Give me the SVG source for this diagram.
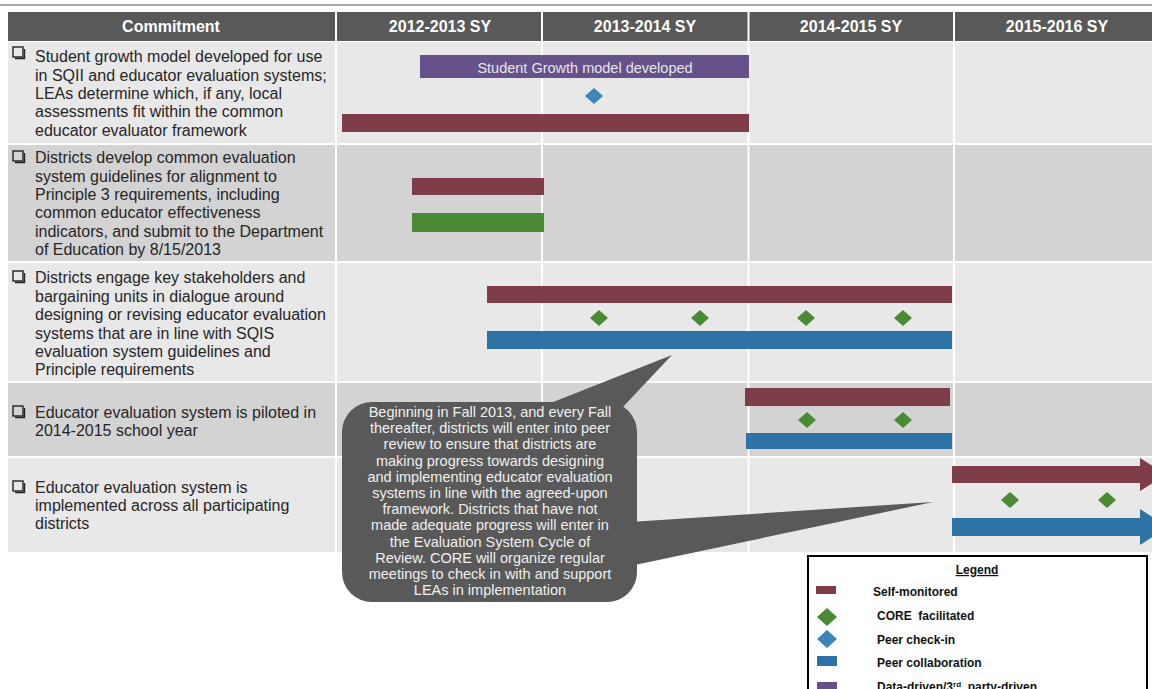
<svg xmlns="http://www.w3.org/2000/svg" width="1152" height="689" viewBox="0 0 1152 689">
<style>
.hdr{font-family:"Liberation Sans",Arial,sans-serif;font-weight:bold;font-size:16px;fill:#ffffff;text-anchor:middle}
.rt{font-family:"Liberation Sans",Arial,sans-serif;font-size:16px;fill:#262626}
.ct{font-family:"Liberation Sans",Arial,sans-serif;font-size:14.5px;fill:#f0f0f0;text-anchor:middle}
.lg{font-family:"Liberation Sans",Arial,sans-serif;font-size:12px;font-weight:bold;fill:#111}
.light{fill:#e8e8e8}
.dark{fill:#d3d3d3}
.sm{fill:#7f3d4a}
.cf{fill:#4b8a35}
.pc{fill:#2e73a6}
.pk{fill:#3b85b8}
.dd{fill:#66518a}
.cb{fill:none;stroke:#222;stroke-width:1.4}
.cbs{stroke:#222;stroke-width:1.4}
.sep{stroke:#ffffff;stroke-width:2}
</style>
<defs>
<polygon id="dia" points="0,-8 9,0 0,8 -9,0"/>
<g id="chk"><rect class="cb" x="0" y="0" width="10" height="10"/><path class="cbs" fill="none" d="M2,11.5 H11.5 V2"/></g>
</defs>
<rect x="0" y="0" width="1152" height="689" fill="#ffffff"/>
<line x1="0" y1="5" x2="1152" y2="5" stroke="#8a8a8a" stroke-width="1.5"/>

<g id="header">
<rect x="8" y="12" width="1144" height="29" fill="#595959"/>
<text class="hdr" x="171" y="32">Commitment</text>
<text class="hdr" x="440" y="32">2012-2013 SY</text>
<text class="hdr" x="645" y="32">2013-2014 SY</text>
<text class="hdr" x="851" y="32">2014-2015 SY</text>
<text class="hdr" x="1057" y="32">2015-2016 SY</text>
</g>

<g id="grid">
<rect class="light" x="8" y="42" width="1144" height="101"/>
<rect class="dark" x="8" y="145" width="1144" height="116"/>
<rect class="light" x="8" y="263" width="1144" height="118"/>
<rect class="dark" x="8" y="383" width="1144" height="73"/>
<rect class="light" x="8" y="458" width="1144" height="94"/>
<line class="sep" x1="336" y1="12" x2="336" y2="552"/>
<line class="sep" x1="542" y1="12" x2="542" y2="552"/>
<line class="sep" x1="748.5" y1="12" x2="748.5" y2="552"/>
<line class="sep" x1="954" y1="12" x2="954" y2="552"/>
</g>

<g id="row1">
<use href="#chk" x="13" y="47"/>
<text class="rt"><tspan x="35" y="62">Student growth model developed for use</tspan><tspan x="35" y="81">in SQII and educator evaluation systems;</tspan><tspan x="35" y="99">LEAs determine which, if any, local</tspan><tspan x="35" y="117">assessments fit within the common</tspan><tspan x="35" y="136">educator evaluator framework</tspan></text>
<rect class="dd" x="420" y="55" width="329" height="23"/>
<text x="585" y="73" style="font-family:'Liberation Sans',Arial,sans-serif;font-size:14.5px;fill:#e6e6e6;text-anchor:middle">Student Growth model developed</text>
<use href="#dia" class="pk" x="594" y="96"/>
<rect class="sm" x="342" y="114" width="407" height="18"/>
</g>

<g id="row2">
<use href="#chk" x="13" y="151"/>
<text class="rt"><tspan x="35" y="163">Districts develop common evaluation</tspan><tspan x="35" y="182">system guidelines for alignment to</tspan><tspan x="35" y="200">Principle 3 requirements, including</tspan><tspan x="35" y="218">common educator effectiveness</tspan><tspan x="35" y="237">indicators, and submit to the Department</tspan><tspan x="35" y="255">of Education by 8/15/2013</tspan></text>
<rect class="sm" x="412" y="178" width="132" height="17"/>
<rect class="cf" x="412" y="213" width="132" height="19"/>
</g>

<g id="row3">
<use href="#chk" x="13" y="271"/>
<text class="rt"><tspan x="35" y="283">Districts engage key stakeholders and</tspan><tspan x="35" y="302">bargaining units in dialogue around</tspan><tspan x="35" y="320">designing or revising educator evaluation</tspan><tspan x="35" y="339">systems that are in line with SQIS</tspan><tspan x="35" y="357">evaluation system guidelines and</tspan><tspan x="35" y="375">Principle requirements</tspan></text>
<rect class="sm" x="487" y="286" width="465" height="17"/>
<use href="#dia" class="cf" x="599" y="318"/>
<use href="#dia" class="cf" x="700" y="318"/>
<use href="#dia" class="cf" x="806" y="318"/>
<use href="#dia" class="cf" x="903" y="318"/>
<rect class="pc" x="487" y="331" width="465" height="18"/>
</g>

<g id="row4">
<use href="#chk" x="13" y="406"/>
<text class="rt"><tspan x="35" y="418">Educator evaluation system is piloted in</tspan><tspan x="35" y="436">2014-2015 school year</tspan></text>
<rect class="sm" x="745" y="388" width="205" height="18"/>
<use href="#dia" class="cf" x="807" y="420"/>
<use href="#dia" class="cf" x="903" y="420"/>
<rect class="pc" x="746" y="433" width="206" height="16"/>
</g>

<g id="row5">
<use href="#chk" x="13" y="481"/>
<text class="rt"><tspan x="35" y="493">Educator evaluation system is</tspan><tspan x="35" y="511">implemented across all participating</tspan><tspan x="35" y="529">districts</tspan></text>
<polygon class="sm" points="952,466 1140,466 1140,458 1166,474.5 1140,491 1140,483 952,483"/>
<use href="#dia" class="cf" x="1010" y="500"/>
<use href="#dia" class="cf" x="1107" y="500"/>
<polygon class="pc" points="952,518 1140,518 1140,509 1168,527 1140,545 1140,536 952,536"/>
</g>

<g id="callout">
<polygon points="533,410 672,355 620,410" fill="#595959"/>
<polygon points="630,522 933,502 630,566" fill="#595959"/>
<rect x="342" y="402" width="295" height="200" rx="30" ry="30" fill="#595959"/>
<text class="ct"><tspan x="490" y="417">Beginning in Fall 2013, and every Fall</tspan><tspan x="490" y="433">thereafter, districts will enter into  peer</tspan><tspan x="490" y="449">review to ensure that districts are</tspan><tspan x="490" y="466">making progress towards designing</tspan><tspan x="490" y="482">and implementing educator evaluation</tspan><tspan x="490" y="498">systems in line with the agreed-upon</tspan><tspan x="490" y="514">framework. Districts that have not</tspan><tspan x="490" y="530">made adequate progress will enter in</tspan><tspan x="490" y="547">the Evaluation System Cycle of</tspan><tspan x="490" y="563">Review. CORE will organize regular</tspan><tspan x="490" y="579">meetings to check in with and support</tspan><tspan x="490" y="595">LEAs in implementation</tspan></text>
</g>

<g id="legend">
<rect x="808" y="556" width="339" height="145" fill="#ffffff" stroke="#000" stroke-width="2"/>
<text class="lg" x="977" y="574" text-anchor="middle" text-decoration="underline">Legend</text>
<rect class="sm" x="816" y="586" width="20" height="8"/>
<text class="lg" x="873" y="596">Self-monitored</text>
<polygon class="cf" points="827,608 837,617 827,626 817,617"/>
<text class="lg" x="877" y="620" style="white-space:pre">CORE  facilitated</text>
<polygon class="pk" points="827,630 837,639 827,648 817,639"/>
<text class="lg" x="877" y="644">Peer check-in</text>
<rect class="pc" x="817" y="656" width="20" height="10"/>
<text class="lg" x="877" y="667">Peer collaboration</text>
<rect class="dd" x="817" y="682" width="20" height="9"/>
<text class="lg" x="877" y="691" style="white-space:pre">Data-driven/3<tspan dy="-4" font-size="8">rd</tspan><tspan dy="4">  party-driven</tspan></text>
</g>
</svg>
